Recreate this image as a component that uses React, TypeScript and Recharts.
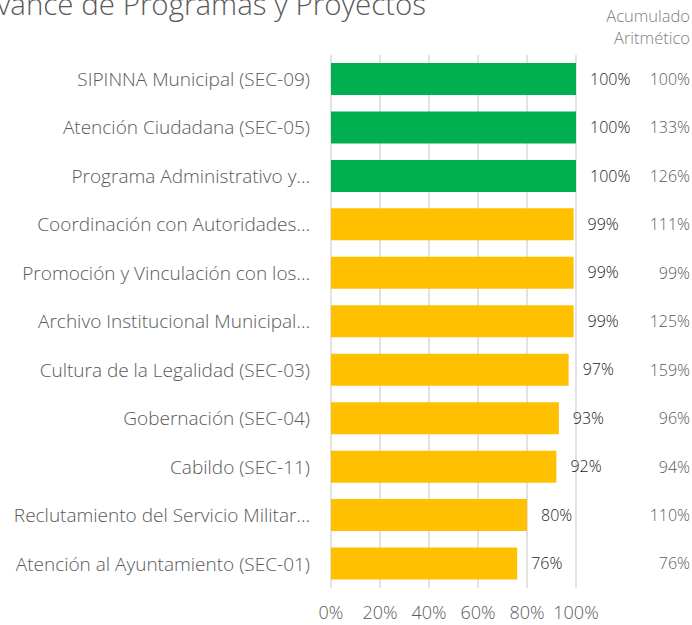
import React from 'react';
import {
  Bar,
  BarChart,
  CartesianGrid,
  Cell,
  LabelList,
  XAxis,
  YAxis,
} from 'recharts';

const programas = [
  'SIPINNA Municipal (SEC-09)',
  'Atención Ciudadana (SEC-05)',
  'Programa Administrativo y…',
  'Coordinación con Autoridades…',
  'Promoción y Vinculación con los…',
  'Archivo Institucional Municipal…',
  'Cultura de la Legalidad (SEC-03)',
  'Gobernación (SEC-04)',
  'Cabildo (SEC-11)',
  'Reclutamiento del Servicio Militar…',
  'Atención al Ayuntamiento (SEC-01)',
];
const avance = [100, 100, 100, 99, 99, 99, 97, 93, 92, 80, 76];
const acumulado = [100, 133, 126, 111, 99, 125, 159, 96, 94, 110, 76];
const xTicks = [0, 20, 40, 60, 80, 100];

const GREEN = '#00B050';
const YELLOW = '#FFC000';
const FONT = '"Open Sans", Lato, sans-serif';

const data = programas.map((name, i) => ({
  name,
  avance: avance[i],
  acumulado: acumulado[i],
}));

// right-hand column: accumulated value per row
function AccTick(props: any) {
  const { x, y, payload } = props;
  const idx = programas.indexOf(payload.value);
  return (
    <text
      x={x}
      y={y}
      dy="0.355em"
      textAnchor="end"
      fill="#595959"
      fontSize={16}
      fontWeight={300}
      fontFamily={FONT}
    >
      {acumulado[idx]}%
    </text>
  );
}

const headStyle: React.CSSProperties = {
  position: 'absolute',
  right: 2,
  fontSize: 16.5,
  lineHeight: '22px',
  fontWeight: 300,
  color: '#808080',
  whiteSpace: 'nowrap',
};

export default function App() {
  return (
    <div
      style={{
        position: 'relative',
        width: 692,
        height: 625,
        overflow: 'hidden',
        fontFamily: FONT,
        background: '#fff',
      }}
    >
      <style>{'body{margin:0}'}</style>
      <div
        style={{
          position: 'absolute',
          left: -21,
          top: -17,
          fontSize: 29.5,
          fontWeight: 300,
          color: '#595959',
          whiteSpace: 'nowrap',
        }}
      >
        Avance de Programas y Proyectos
      </div>
      <div style={{ ...headStyle, top: 5 }}>Acumulado</div>
      <div style={{ ...headStyle, top: 27 }}>Aritmético</div>
      <BarChart
        width={692}
        height={625}
        data={data}
        layout="vertical"
        margin={{ top: 55, right: 0, bottom: 0, left: 0 }}
        barCategoryGap="16.5%"
      >
        <CartesianGrid horizontal={false} stroke="#d9d9d9" strokeWidth={1.5} />
        <XAxis
          type="number"
          domain={[0, 100]}
          ticks={xTicks}
          tickFormatter={(v) => `${v}%`}
          axisLine={false}
          tickLine={false}
          tickSize={0}
          tickMargin={18}
          height={37}
          interval={0}
          tick={{ fill: '#595959', fontSize: 18, fontWeight: 300, fontFamily: FONT }}
        />
        <YAxis
          yAxisId="left"
          type="category"
          dataKey="name"
          width={331}
          axisLine={false}
          tickLine={false}
          tickSize={0}
          tickMargin={21}
          interval={0}
          tick={{ fill: '#595959', fontSize: 19, fontWeight: 300, fontFamily: FONT }}
        />
        <YAxis
          yAxisId="right"
          orientation="right"
          type="category"
          dataKey="name"
          width={116}
          axisLine={false}
          tickLine={false}
          tickSize={0}
          tickMargin={114}
          interval={0}
          tick={<AccTick />}
        />
        <Bar yAxisId="left" dataKey="avance" isAnimationActive={false}>
          {data.map((d) => (
            <Cell key={d.name} fill={d.avance >= 100 ? GREEN : YELLOW} />
          ))}
          <LabelList
            dataKey="avance"
            position="right"
            offset={14}
            formatter={(v: any) => `${v}%`}
            fill="#1a1a1a"
            fontSize={16}
            fontWeight={300}
            fontFamily={FONT}
          />
        </Bar>
      </BarChart>
    </div>
  );
}
